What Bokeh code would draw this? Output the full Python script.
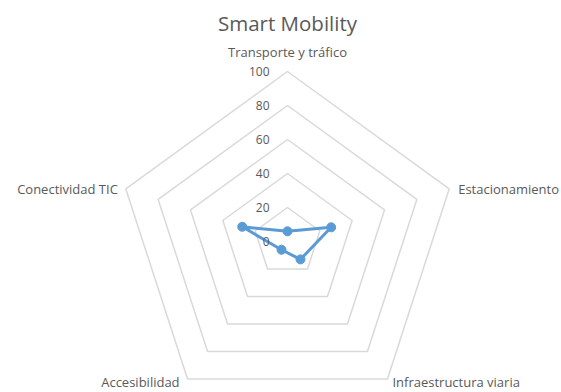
import numpy as np
from bokeh.plotting import figure
from bokeh.models import ColumnDataSource, Range1d
from bokeh.core.properties import value
from bokeh.embed import file_html
from bokeh.resources import INLINE

title_text = "Smart Mobility"
categories = ["Transporte y tráfico", "Estacionamiento", "Infraestructura viaria",
              "Accesibilidad", "Conectividad TIC"]
values = [6, 27, 13, 6, 28]
ring_levels = [20, 40, 60, 80, 100]
tick_values = [0, 20, 40, 60, 80, 100]
tick_labels = ["0", "20", "40", "60", "80", "100"]

W, H = 559, 390
S = 1.7          # pixels per unit
CX, CY = 287, 241  # centre in frame pixels
FONT = "Open Sans"
TXT = "#595959"
BLUE = "#5B9BD5"

p = figure(width=W, height=H, output_backend="svg", toolbar_location=None,
           x_range=Range1d(-CX / S, (W - CX) / S),
           y_range=Range1d(-(H - CY) / S, CY / S),
           x_axis_type=None, y_axis_type=None, min_border=0)
p.grid.visible = False
p.outline_line_color = None
p.background_fill_color = "white"

n = len(categories)
ang = np.deg2rad(90 - 72 * np.arange(n))
closed = np.append(ang, ang[0])

for r in ring_levels:
    p.line(r * np.cos(closed), r * np.sin(closed), line_color="#D9D9D9", line_width=1.5)

vals = np.array(values, dtype=float)
vx = vals * np.cos(ang)
vy = vals * np.sin(ang)
p.line(np.append(vx, vx[0]), np.append(vy, vy[0]), line_color=BLUE, line_width=3,
       line_join="round")
p.scatter(vx, vy, size=9, fill_color=BLUE, line_color=BLUE)

p.text(x=[0] * len(tick_values), y=tick_values, text=tick_labels, x_offset=-18,
       text_align="right", text_baseline="middle", text_font=value(FONT),
       text_font_size="12px", text_color=TXT)

lx = 100 * np.cos(ang)
ly = 100 * np.sin(ang)
xo = [0, 9, 5, -8, -8]
yo = [-20, 0, 3, 3, 0]
aligns = ["center", "left", "left", "right", "right"]
lsrc = ColumnDataSource(dict(x=lx, y=ly, text=categories, xo=xo, yo=yo, al=aligns))
p.text(x="x", y="y", text="text", x_offset="xo", y_offset="yo", text_align="al",
       text_baseline="middle", text_font=value(FONT), text_font_size="13px",
       text_color=TXT, source=lsrc)

p.text(x=[0], y=[(CY - 22) / S], text=[title_text], text_align="center",
       text_baseline="middle", text_font=value(FONT), text_font_size="20.5px",
       text_color=TXT)

open("out.html", "w").write(file_html(p, INLINE))
